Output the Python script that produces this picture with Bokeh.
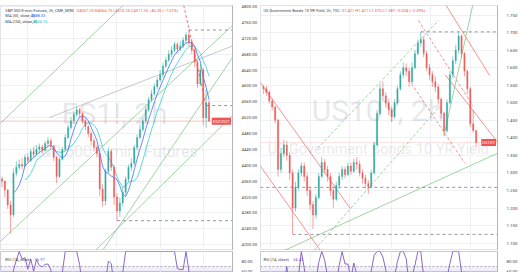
import math
from bokeh.plotting import figure
from bokeh.layouts import row, column
from bokeh.models import Range1d, FixedTicker, Label, Span, BoxAnnotation, PrintfTickFormatter
from bokeh.core.properties import value
from bokeh.embed import file_html
from bokeh.resources import INLINE

# ---------------- data: ES1! (S&P 500 E-mini Futures, 2h) ----------------
es_open0 = 4366.0
es_close = [4360, 4338, 4300, 4275, 4380, 4395, 4402, 4398, 4420, 4412,
            4435, 4428, 4440, 4446, 4438, 4455, 4462, 4448, 4420, 4372,
            4415, 4440, 4470, 4495, 4512, 4528, 4540, 4530, 4512, 4498,
            4480, 4462, 4445, 4430, 4340, 4310, 4385, 4435, 4395, 4320,
            4285, 4305, 4332, 4365, 4395, 4405, 4445, 4470, 4490, 4512,
            4540, 4565, 4580, 4598, 4615, 4628, 4650, 4665, 4680, 4690,
            4705, 4692, 4700, 4715, 4728, 4710, 4690, 4660, 4605, 4640,
            4520, 4557.25, 4511.25]
es_high = [4372, 4362, 4340, 4310, 4392, 4410, 4415, 4418, 4428, 4430,
           4442, 4445, 4450, 4455, 4452, 4462, 4472, 4468, 4452, 4425,
           4420, 4446, 4478, 4502, 4522, 4536, 4548, 4545, 4535, 4518,
           4502, 4486, 4468, 4450, 4435, 4352, 4392, 4445, 4440, 4402,
           4330, 4318, 4345, 4372, 4402, 4418, 4452, 4478, 4502, 4520,
           4546, 4572, 4590, 4606, 4622, 4640, 4658, 4672, 4690, 4700,
           4712, 4710, 4712, 4722, 4735, 4740.75, 4718, 4695, 4665, 4655,
           4645, 4590, 4566.75]
es_low = [4345, 4320, 4290, 4228, 4270, 4372, 4388, 4390, 4396, 4405,
          4408, 4420, 4425, 4432, 4430, 4436, 4448, 4440, 4410, 4355,
          4368, 4412, 4436, 4466, 4490, 4505, 4522, 4520, 4505, 4488,
          4470, 4450, 4435, 4420, 4322, 4296, 4300, 4380, 4385, 4300,
          4260.5, 4270, 4298, 4325, 4358, 4385, 4400, 4438, 4465, 4485,
          4508, 4535, 4560, 4575, 4592, 4610, 4622, 4645, 4660, 4672,
          4685, 4682, 4688, 4695, 4708, 4700, 4680, 4648, 4595, 4600,
          4500, 4495, 4510.25]
es_price_ticks = [4200, 4240, 4280, 4320, 4360, 4400, 4440, 4480, 4520,
                  4560, 4600, 4640, 4680, 4720, 4760, 4800]
es_time_ticks = [9, 25, 40, 55, 70]
es_ma_windows = [5, 9]
# drawings (bar index, price)
es_green_lines = [((-1.5, 4499), (43.6, 4813)), ((-1.5, 4202), (82.5, 4768)),
                  ((30.0, 4168), (82.5, 4542)), ((33.4, 4168), (82.5, 4697))]
es_grey_lines = [((16.4, 4520), (82.5, 4707))]
es_red_dashed = [((63.2, 4803), (71.0, 4551))]
es_levels = [4740.75, 4550.50, 4260.50]
es_level_start = [65, 71, 40]
es_last = 4511.25

# ---------------- data: US10Y (US Government Bonds 10 YR Yield, 2h) ----------------
us_open0 = 1.545
us_close = [1.540, 1.530, 1.505, 1.488, 1.450, 1.310, 1.355, 1.380, 1.350, 1.300,
            1.200, 1.260, 1.300, 1.320, 1.290, 1.250, 1.210, 1.180, 1.230, 1.290,
            1.330, 1.310, 1.290, 1.250, 1.225, 1.265, 1.290, 1.310, 1.295, 1.320,
            1.305, 1.330, 1.325, 1.300, 1.285, 1.270, 1.260, 1.300, 1.380, 1.470,
            1.540, 1.520, 1.500, 1.480, 1.460, 1.500, 1.540, 1.580, 1.600, 1.590,
            1.560, 1.600, 1.640, 1.670, 1.680, 1.640, 1.600, 1.580, 1.560, 1.545,
            1.510, 1.470, 1.420, 1.500, 1.580, 1.620, 1.650, 1.690, 1.640, 1.590,
            1.540, 1.440, 1.421, 1.387]
us_high = [1.550, 1.548, 1.535, 1.512, 1.492, 1.455, 1.370, 1.395, 1.392, 1.360,
           1.310, 1.275, 1.310, 1.330, 1.330, 1.300, 1.260, 1.220, 1.240, 1.300,
           1.345, 1.340, 1.320, 1.300, 1.260, 1.275, 1.300, 1.320, 1.318, 1.330,
           1.330, 1.340, 1.345, 1.335, 1.310, 1.295, 1.280, 1.310, 1.390, 1.480,
           1.555, 1.560, 1.530, 1.510, 1.490, 1.510, 1.548, 1.590, 1.615, 1.612,
           1.600, 1.615, 1.650, 1.680, 1.702, 1.690, 1.648, 1.610, 1.590, 1.575,
           1.552, 1.515, 1.475, 1.510, 1.590, 1.632, 1.665, 1.700, 1.695, 1.645,
           1.595, 1.545, 1.480, 1.421]
us_low = [1.525, 1.520, 1.498, 1.478, 1.440, 1.290, 1.300, 1.345, 1.335, 1.280,
          1.125, 1.190, 1.250, 1.290, 1.275, 1.235, 1.195, 1.140, 1.170, 1.225,
          1.285, 1.300, 1.275, 1.235, 1.200, 1.220, 1.255, 1.280, 1.285, 1.290,
          1.295, 1.300, 1.310, 1.290, 1.270, 1.255, 1.240, 1.255, 1.295, 1.375,
          1.465, 1.505, 1.485, 1.465, 1.445, 1.455, 1.495, 1.535, 1.570, 1.575,
          1.545, 1.555, 1.595, 1.635, 1.660, 1.630, 1.590, 1.565, 1.545, 1.530,
          1.495, 1.455, 1.405, 1.415, 1.495, 1.570, 1.610, 1.640, 1.630, 1.575,
          1.525, 1.430, 1.415, 1.375]
us_price_ticks = [1.10, 1.15, 1.20, 1.25, 1.30, 1.35, 1.40, 1.45, 1.50,
                  1.55, 1.60, 1.65, 1.70, 1.75]
us_time_ticks = [2.5, 16, 29.5, 44, 57.5, 71]
us_red_lines = [((-1.7, 1.565), (29.8, 1.199)), ((-1.7, 1.327), (21.0, 1.062)),
                ((61.7, 1.791), (77.6, 1.578)), ((62.4, 1.5795), (80.3, 1.3887))]
us_red_dashed = [((53.2, 1.734), (71.9, 1.492)), ((50.8, 1.555), (69.2, 1.327))]
us_green_dashed = [((18.6, 1.370), (60.0, 1.734)), ((14.2, 1.049), (60.0, 1.485))]
us_green_lines = [((62.0, 1.407), (72.2, 1.791)), ((3.4, 1.065), (80.3, 1.356))]
us_levels = [1.702, 1.259, 1.125]
us_level_start = [54, -1.1, 10]
us_last = 1.387

rsi_ticks = [60, 80]
RSI_N = 3

# ---------------- style ----------------
FONT = "Roboto"
UP, DN = "#26a69a", "#ef5350"
GRID = "#eef0f4"
TXT = "#3b3f4a"
FS = "4.3px"
W_L, W_R = 238, 240        # frame widths
FH = 245                   # main frame height
L_XR = (-0.5085, 80.17)
L_YR = (4185.4, 4802.5)
R_XR = (-1.017, 80.34)
R_YR = (1.0791, 1.7771)


def lpx(px):
    return L_XR[0] + px * (L_XR[1] - L_XR[0]) / W_L


def lpy(py):
    return L_YR[1] - (py - 5) * (L_YR[1] - L_YR[0]) / FH


def rpx(px):
    return R_XR[0] + (px - 260) * (R_XR[1] - R_XR[0]) / W_R


def rpy(py):
    return R_YR[1] - (py - 5) * (R_YR[1] - R_YR[0]) / FH


def sma(vals, n):
    out = []
    for i in range(len(vals)):
        out.append(float("nan") if i < n - 1 else sum(vals[i - n + 1:i + 1]) / n)
    return out


def rsi(vals, n):
    out = []
    for i in range(len(vals)):
        if i < n:
            out.append(float("nan"))
            continue
        g = l = 0.0
        for j in range(i - n + 1, i + 1):
            d = vals[j] - vals[j - 1]
            if d > 0:
                g += d
            else:
                l -= d
        out.append(100.0 if l == 0 else 100 - 100 / (1 + g / l))
    return out


def main_fig(xr, yr, width, rb, ticks, fmt):
    p = figure(width=width, height=250, x_range=Range1d(*xr), y_range=Range1d(*yr),
               output_backend="svg", toolbar_location=None, x_axis_location=None,
               y_axis_location="right", min_border_left=0, min_border_top=5,
               min_border_bottom=0, min_border_right=rb)
    p.background_fill_color = "white"
    p.border_fill_color = "white"
    p.outline_line_color = "#e0e3eb"
    p.yaxis.ticker = FixedTicker(ticks=ticks)
    p.yaxis.formatter = PrintfTickFormatter(format=fmt)
    p.yaxis.major_tick_line_color = None
    p.yaxis.minor_tick_line_color = None
    p.yaxis.axis_line_color = "#b2b5be"
    p.yaxis.major_label_text_font = FONT
    p.yaxis.major_label_text_font_size = FS
    p.yaxis.major_label_text_color = TXT
    p.yaxis.major_label_standoff = 3
    p.ygrid.grid_line_color = GRID
    p.xgrid.grid_line_color = GRID
    return p


def rsi_fig(xr, width, rb):
    p = figure(width=width, height=22, x_range=Range1d(*xr), y_range=Range1d(58, 100),
               output_backend="svg", toolbar_location=None, x_axis_location=None,
               y_axis_location="right", min_border_left=0, min_border_top=1,
               min_border_bottom=0, min_border_right=rb)
    p.outline_line_color = "#c8cbd3"
    p.yaxis.ticker = FixedTicker(ticks=rsi_ticks)
    p.yaxis.formatter = PrintfTickFormatter(format="%.2f")
    p.yaxis.major_tick_line_color = None
    p.yaxis.minor_tick_line_color = None
    p.yaxis.axis_line_color = "#b2b5be"
    p.yaxis.major_label_text_font = FONT
    p.yaxis.major_label_text_font_size = FS
    p.yaxis.major_label_text_color = TXT
    p.yaxis.major_label_standoff = 3
    p.ygrid.grid_line_color = None
    p.xgrid.grid_line_color = GRID
    p.add_layout(BoxAnnotation(bottom=30, top=70, fill_color="#7e57c2", fill_alpha=0.1, line_color=None))
    p.add_layout(Span(location=70, dimension="width", line_color="#787b86", line_dash="2 2", line_width=0.6))
    return p


def candles(p, open0, closes, highs, lows):
    opens = [open0] + closes[:-1]
    x = list(range(len(closes)))
    col = [UP if c >= o else DN for o, c in zip(opens, closes)]
    p.segment(x0=x, y0=lows, x1=x, y1=highs, line_color=col, line_width=0.6, line_alpha=0.9)
    p.vbar(x=x, width=0.45, top=[max(o, c) for o, c in zip(opens, closes)],
           bottom=[min(o, c) for o, c in zip(opens, closes)],
           fill_color=col, fill_alpha=0.85, line_color=col, line_width=0.3)


def draw_lines(p, lines, color, dash="solid", alpha=0.85, width=0.9):
    p.segment(x0=[a[0] for a, b in lines], y0=[a[1] for a, b in lines],
              x1=[b[0] for a, b in lines], y1=[b[1] for a, b in lines],
              line_color=color, line_alpha=alpha, line_width=width, line_dash=dash)


def levels(p, lv, starts, xend):
    p.segment(x0=starts, y0=lv, x1=[xend] * len(lv), y1=lv,
              line_color="#787b86", line_width=0.8, line_dash="3 3")


def txt(p, x, y, s, color=TXT, size=FS, bg=None, align="left", baseline="middle"):
    kw = dict(x=x, y=y, text=s, text_color=color, text_font=FONT, text_font_size=size,
              text_align=align, text_baseline=baseline)
    if bg:
        kw.update(background_fill_color=bg, padding=1)
    p.add_layout(Label(**kw))


def watermark(p, cx, cy1, cy2, big, small, small_size):
    p.text(x=[cx], y=[cy1], text=[big], text_font=value(FONT), text_font_size="30px",
           text_align="center", text_baseline="middle", text_color="#9598a1", text_alpha=0.22)
    p.text(x=[cx], y=[cy2], text=[small], text_font=value(FONT), text_font_size=small_size,
           text_align="center", text_baseline="middle", text_color="#9598a1", text_alpha=0.22)


# ================= LEFT: ES1! =================
lm = main_fig(L_XR, L_YR, 260, 22, es_price_ticks, "%.2f")
lm.xgrid.ticker = FixedTicker(ticks=es_time_ticks)
watermark(lm, lpx(117), lpy(113), lpy(151), "ES1!, 2h", "S&P 500 E-mini Futures", "16px")
draw_lines(lm, es_green_lines, "#81c784")
draw_lines(lm, es_grey_lines, "#b2b5be")
draw_lines(lm, es_red_dashed, "#ef5350", dash="3 2")
levels(lm, es_levels, es_level_start, L_XR[1])
lm.add_layout(Span(location=es_last, dimension="width", line_color="#ef5350", line_alpha=0.5, line_width=0.7))
xs = list(range(len(es_close)))
lm.line(xs, sma(es_close, es_ma_windows[1]), line_color="#4dd0e1", line_width=0.9)
lm.line(xs, sma(es_close, es_ma_windows[0]), line_color="#2962ff", line_width=0.9, line_alpha=0.8)
candles(lm, es_open0, es_close, es_high, es_low)

txt(lm, lpx(1), lpy(2.5), "Marco_on_Wednesday published on TradingView.com, Dec 03, 2021 12:08 UTC-5", color="#50535e")
txt(lm, lpx(5), lpy(9.5), "S&P 500 E-mini Futures, 2h, CME_MINI", size="4px")
txt(lm, lpx(78), lpy(9.5), "O4557.25 H4566.75 L4510.25 C4511.25 \u221246.25 (\u22121.01%)", color=DN, size="4px")
txt(lm, lpx(5), lpy(15.2), "MA (50, close, 0)", size="4px")
txt(lm, lpx(31), lpy(15.2), "4588.33", color="#2962ff", size="4px")
txt(lm, lpx(5), lpy(20.8), "MA (100, close, 0)", size="4px")
txt(lm, lpx(33), lpy(20.8), "4635.75", color="#26c6da", size="4px")
txt(lm, lpx(240.5), lpy(10.8), "USD")
for lv in es_levels:
    txt(lm, lpx(239.5), lv, "%.2f" % lv, color="white", bg="#5d606b")
txt(lm, lpx(239.5), es_last, "%.2f\n01:40" % es_last, color="white", bg=DN)
txt(lm, lpx(236.5), es_last, "ESZ2021", color="white", bg=DN, align="right")

lr = rsi_fig(L_XR, 260, 22)
lr.xgrid.ticker = FixedTicker(ticks=es_time_ticks)
lr.line(xs, rsi(es_close, RSI_N), line_color="#7e57c2", line_width=0.9)
txt(lr, lpx(5), 84, "RSI (14, close)", size="4px")
txt(lr, lpx(35), 84, "36.97", color="#7e57c2", size="4px")

# ================= RIGHT: US10Y =================
rm = main_fig(R_XR, R_YR, 260, 20, us_price_ticks, "%.3f")
rm.xgrid.ticker = FixedTicker(ticks=us_time_ticks)
watermark(rm, rpx(379), rpy(110), rpy(149), "US10Y, 2h", "US Government Bonds 10 YR Yield", "14.5px")
draw_lines(rm, us_red_lines, "#ef5350", alpha=0.7)
draw_lines(rm, us_red_dashed, "#ef5350", dash="3 2", alpha=0.7)
draw_lines(rm, us_green_dashed, "#81c784", dash="3 2")
draw_lines(rm, us_green_lines, "#81c784")
levels(rm, us_levels, us_level_start, R_XR[1])
rm.add_layout(Span(location=us_last, dimension="width", line_color="#ef5350", line_alpha=0.5, line_width=0.7, line_dash="1 1"))
xr_ = list(range(len(us_close)))
candles(rm, us_open0, us_close, us_high, us_low)

txt(rm, rpx(263), rpy(9.5), "US Government Bonds 10 YR Yield, 2h, TVC", size="4px")
txt(rm, rpx(342), rpy(9.5), "O1.421 H1.421 L1.375 C1.387 \u22120.034 (\u22122.39%)", color=DN, size="4px")
txt(rm, rpx(503), rpy(9.3), "PCT")
txt(rm, rpx(501.5), us_levels[0], "1.702", color="white", bg="#5d606b")
txt(rm, rpx(501.5), us_levels[2], "1.125", color="white", bg="#5d606b")
txt(rm, rpx(501.5), rpy(152.5), "1.378", color="white", bg="#5d606b")
txt(rm, rpx(501.5), us_last, "%.3f\n03:40" % us_last, color="white", bg=DN)
txt(rm, rpx(498.5), us_last, "US10Y", color="white", bg=DN, align="right")

rr = rsi_fig(R_XR, 260, 20)
rr.xgrid.ticker = FixedTicker(ticks=us_time_ticks)
rr.line(xr_, rsi(us_close, RSI_N), line_color="#7e57c2", line_width=0.9)
txt(rr, rpx(263), 84, "RSI (14, close)", size="4px")
txt(rr, rpx(293), 84, "34.43", color="#7e57c2", size="4px")

layout = row(column(lm, lr), column(rm, rr))
open("out.html", "w").write(file_html(layout, INLINE))
